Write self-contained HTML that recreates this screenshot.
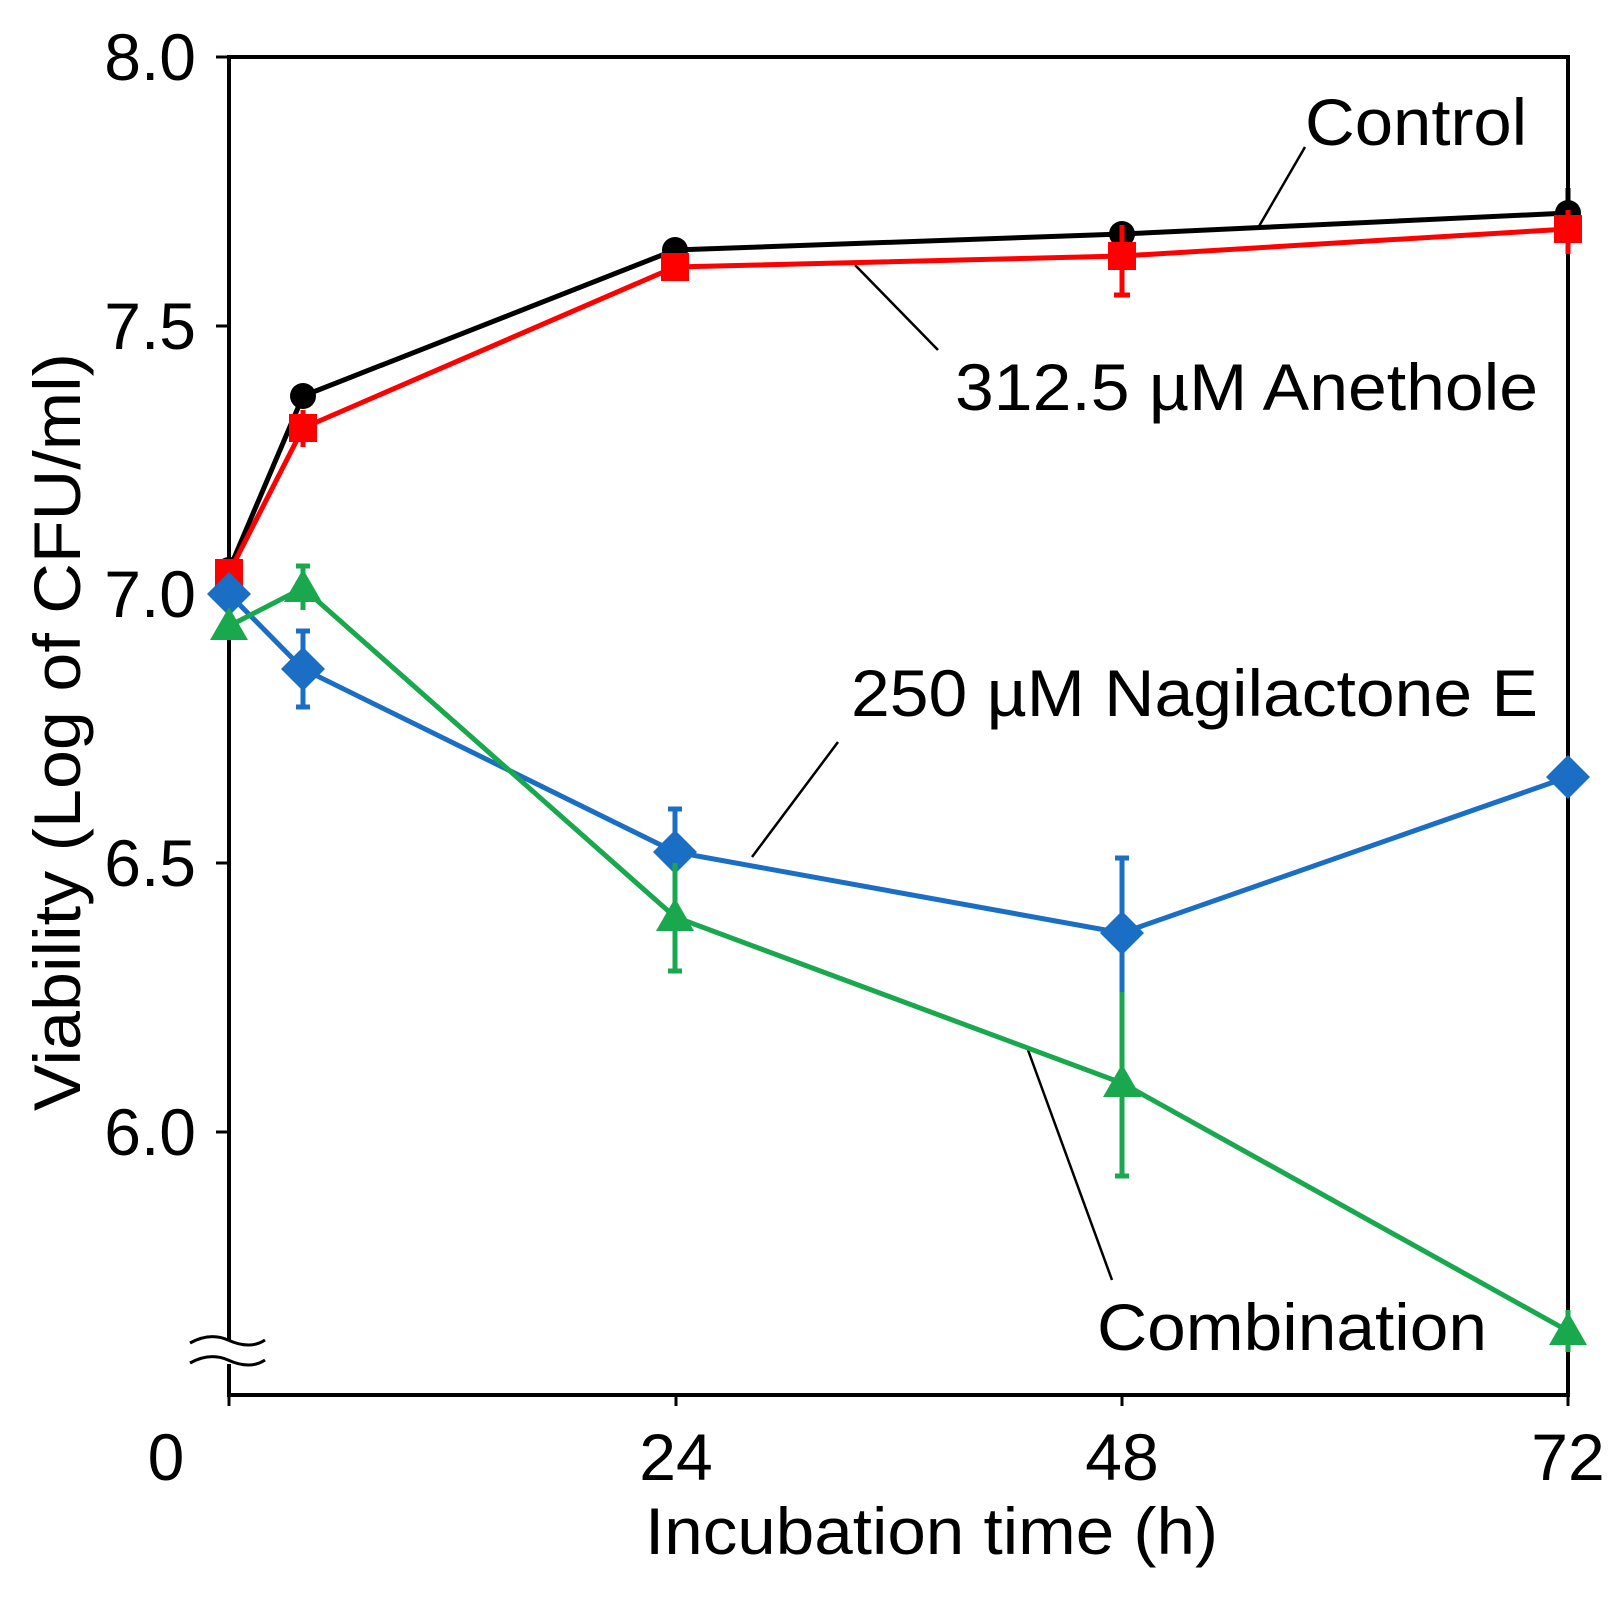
<!DOCTYPE html>
<html><head><style>html,body{margin:0;padding:0;background:#fff}</style></head>
<body>
<svg width="1620" height="1593" viewBox="0 0 1620 1593" xmlns="http://www.w3.org/2000/svg" font-family="Liberation Sans, Arial, sans-serif">
<rect x="229" y="57" width="1339" height="1338" fill="none" stroke="#000" stroke-width="4"/>
<g stroke="#000" stroke-width="3">
<line x1="216" y1="57" x2="229" y2="57"/><line x1="216" y1="326" x2="229" y2="326"/>
<line x1="216" y1="594" x2="229" y2="594"/><line x1="216" y1="863" x2="229" y2="863"/>
<line x1="216" y1="1132" x2="229" y2="1132"/>
<line x1="229" y1="1395" x2="229" y2="1406"/><line x1="676" y1="1395" x2="676" y2="1406"/>
<line x1="1122" y1="1395" x2="1122" y2="1406"/><line x1="1568" y1="1395" x2="1568" y2="1406"/>
</g>
<rect x="222" y="1340" width="14" height="24" fill="#fff"/>
<path d="M190 1343 Q210 1332 228 1340 Q250 1350 265 1340 M190 1363 Q210 1352 228 1360 Q250 1370 265 1360" fill="none" stroke="#000" stroke-width="3"/>
<g font-size="66" fill="#000">
<text x="196" y="80" text-anchor="end">8.0</text>
<text x="196" y="349" text-anchor="end">7.5</text>
<text x="196" y="617" text-anchor="end">7.0</text>
<text x="196" y="886" text-anchor="end">6.5</text>
<text x="196" y="1155" text-anchor="end">6.0</text>
<text x="166" y="1480" text-anchor="middle">0</text>
<text x="676" y="1480" text-anchor="middle">24</text>
<text x="1122" y="1480" text-anchor="middle">48</text>
<text x="1568" y="1480" text-anchor="middle">72</text>
<text x="645" y="1554" textLength="573" lengthAdjust="spacingAndGlyphs">Incubation time (h)</text>
<text transform="translate(80,732) rotate(-90)" text-anchor="middle" textLength="758" lengthAdjust="spacingAndGlyphs">Viability (Log of CFU/ml)</text>
<text x="1305" y="145" textLength="222" lengthAdjust="spacingAndGlyphs">Control</text>
<text x="955" y="410" textLength="583" lengthAdjust="spacingAndGlyphs">312.5 µM Anethole</text>
<text x="851" y="716" textLength="687" lengthAdjust="spacingAndGlyphs">250 µM Nagilactone E</text>
<text x="1097" y="1350" textLength="390" lengthAdjust="spacingAndGlyphs">Combination</text>
</g>
<g stroke="#000" stroke-width="2.5">
<line x1="1305" y1="147" x2="1258" y2="228"/>
<line x1="938" y1="350" x2="855" y2="265"/>
<line x1="838" y1="742" x2="752" y2="857"/>
<line x1="1112" y1="1280" x2="1028" y2="1050"/>
</g>
<g stroke="#000" stroke-width="5" fill="none">
<polyline points="229,570 303,396 675,250 1122,234 1568,213"/>
<line x1="1568" y1="188" x2="1568" y2="235"/><line x1="1122" y1="222" x2="1122" y2="246"/>
</g>
<g fill="#000">
<circle cx="229" cy="570" r="13"/><circle cx="303" cy="396" r="13"/><circle cx="675" cy="250" r="13"/><circle cx="1122" cy="234" r="13"/><circle cx="1568" cy="213" r="13"/>
</g>
<g stroke="#f00" stroke-width="5" fill="none">
<polyline points="229,573 303,428 675,267 1122,256 1568,229"/>
<line x1="1122" y1="225" x2="1122" y2="295"/><line x1="1114" y1="295" x2="1130" y2="295"/>
<line x1="1568" y1="210" x2="1568" y2="254"/><line x1="303" y1="410" x2="303" y2="447"/>
</g>
<g fill="#f00">
<rect x="215" y="559" width="28" height="28"/><rect x="289" y="414" width="28" height="28"/><rect x="661" y="253" width="28" height="28"/><rect x="1108" y="242" width="28" height="28"/><rect x="1554" y="215" width="28" height="28"/>
</g>
<g stroke="#1a6fc4" stroke-width="5" fill="none">
<polyline points="229,594 303,669 675,852 1122,933 1568,777"/>
<line x1="303" y1="631" x2="303" y2="707"/><line x1="296" y1="631" x2="310" y2="631"/><line x1="296" y1="707" x2="310" y2="707"/>
<line x1="675" y1="809" x2="675" y2="895"/><line x1="668" y1="809" x2="682" y2="809"/>
<line x1="1122" y1="858" x2="1122" y2="1008"/><line x1="1115" y1="858" x2="1129" y2="858"/>
</g>
<g fill="#1a6fc4">
<polygon points="229,572 251,594 229,616 207,594"/><polygon points="303,647 325,669 303,691 281,669"/><polygon points="675,830 697,852 675,874 653,852"/><polygon points="1122,911 1144,933 1122,955 1100,933"/><polygon points="1568,755 1590,777 1568,799 1546,777"/>
</g>
<g stroke="#1aa84f" stroke-width="5" fill="none">
<polyline points="229,626 303,588 675,917 1122,1083 1568,1331"/>
<line x1="303" y1="566" x2="303" y2="610"/><line x1="296" y1="566" x2="310" y2="566"/>
<line x1="675" y1="863" x2="675" y2="971"/><line x1="668" y1="971" x2="682" y2="971"/>
<line x1="1122" y1="992" x2="1122" y2="1176"/><line x1="1115" y1="1176" x2="1129" y2="1176"/>
<line x1="1568" y1="1310" x2="1568" y2="1352"/>
</g>
<g fill="#1aa84f">
<polygon points="229,607 248,640 210,640"/><polygon points="303,569 322,602 284,602"/><polygon points="675,898 694,931 656,931"/><polygon points="1122,1064 1141,1097 1103,1097"/><polygon points="1568,1312 1587,1345 1549,1345"/>
</g>
</svg>
</body></html>
